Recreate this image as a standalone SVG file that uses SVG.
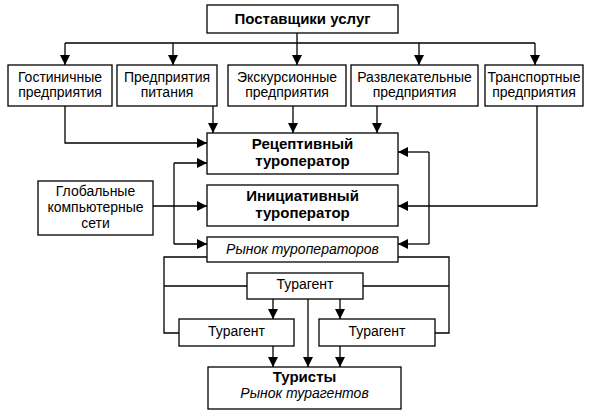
<svg xmlns="http://www.w3.org/2000/svg" width="596" height="416" viewBox="0 0 596 416">
<defs>
<style>
.box{fill:#fff;stroke:#000;stroke-width:1.3}
.ln{fill:none;stroke:#000;stroke-width:1.3}
text{font-family:"Liberation Sans",Arial,sans-serif;font-size:14px;fill:#000;text-anchor:middle}
.b{font-weight:bold;font-size:15px}
.i{font-style:italic}
</style>
<marker id="ah" markerWidth="10" markerHeight="10" refX="10" refY="5" orient="auto" markerUnits="userSpaceOnUse">
<path d="M0,0 L10,5 L0,10 z" fill="#000"/>
</marker>
</defs>
<rect width="596" height="416" fill="#fff"/>
<g id="connectors">
<path class="ln" d="M297,33 V43 M65,43 H535"/>
<path class="ln" marker-end="url(#ah)" d="M65,43 V65"/>
<path class="ln" marker-end="url(#ah)" d="M173,43 V65"/>
<path class="ln" marker-end="url(#ah)" d="M297,43 V65"/>
<path class="ln" marker-end="url(#ah)" d="M419,43 V65"/>
<path class="ln" marker-end="url(#ah)" d="M535,43 V65"/>
<path class="ln" marker-end="url(#ah)" d="M65,106 V143 H207"/>
<path class="ln" marker-end="url(#ah)" d="M213,106 V133"/>
<path class="ln" marker-end="url(#ah)" d="M293,106 V133"/>
<path class="ln" marker-end="url(#ah)" d="M377,106 V133"/>
<path class="ln" marker-end="url(#ah)" d="M537,106 V206 H398"/>
<path class="ln" marker-end="url(#ah)" d="M153,206 H207"/>
<path class="ln" d="M174,163 V244"/>
<path class="ln" marker-end="url(#ah)" d="M174,163 H207"/>
<path class="ln" marker-end="url(#ah)" d="M174,244 H207"/>
<path class="ln" d="M429,152 V244"/>
<path class="ln" marker-end="url(#ah)" d="M429,152 H398"/>
<path class="ln" marker-end="url(#ah)" d="M429,244 H398"/>
<path class="ln" d="M207,257 H164 V333 H179 M164,286 H247"/>
<path class="ln" d="M398,257 H449 V333 H435 M449,286 H363"/>
<path class="ln" marker-end="url(#ah)" d="M273,299 V319"/>
<path class="ln" marker-end="url(#ah)" d="M340,299 V319"/>
<path class="ln" marker-end="url(#ah)" d="M308,299 V367"/>
<path class="ln" marker-end="url(#ah)" d="M273,346 V367"/>
<path class="ln" marker-end="url(#ah)" d="M340,346 V367"/>
</g>
<g id="suppliers"><rect class="box" x="207" y="5" width="191" height="28"/><text class="b" x="302.5" y="24">Поставщики услуг</text></g>
<g id="hotels"><rect class="box" x="8" y="65" width="104" height="41"/><text x="60" y="82">Гостиничные</text><text x="60" y="97">предприятия</text></g>
<g id="food"><rect class="box" x="117" y="65" width="100" height="41"/><text x="167" y="82">Предприятия</text><text x="167" y="97">питания</text></g>
<g id="excursion"><rect class="box" x="228" y="65" width="118" height="41"/><text x="287" y="82">Экскурсионные</text><text x="287" y="97">предприятия</text></g>
<g id="entertainment"><rect class="box" x="351" y="65" width="127" height="41"/><text x="414.5" y="82">Развлекательные</text><text x="414.5" y="97">предприятия</text></g>
<g id="transport"><rect class="box" x="485" y="65" width="98" height="41"/><text x="534" y="82">Транспортные</text><text x="534" y="97">предприятия</text></g>
<g id="receptive"><rect class="box" x="207" y="133" width="191" height="41"/><text class="b" x="302.5" y="149">Рецептивный</text><text class="b" x="302.5" y="166">туроператор</text></g>
<g id="initiative"><rect class="box" x="207" y="185" width="191" height="41"/><text class="b" x="302.5" y="201">Инициативный</text><text class="b" x="302.5" y="218">туроператор</text></g>
<g id="networks"><rect class="box" x="38" y="181" width="115" height="54"/><text x="95.5" y="196">Глобальные</text><text x="95.5" y="212">компьютерные</text><text x="95.5" y="228">сети</text></g>
<g id="market-operators"><rect class="box" x="207" y="237" width="191" height="25"/><text class="i" x="302.5" y="254">Рынок туроператоров</text></g>
<g id="agent-mid"><rect class="box" x="247" y="273" width="116" height="26"/><text x="305" y="289">Турагент</text></g>
<g id="agent-left"><rect class="box" x="179" y="319" width="115" height="27"/><text x="236.5" y="336">Турагент</text></g>
<g id="agent-right"><rect class="box" x="319" y="319" width="116" height="27"/><text x="377" y="336">Турагент</text></g>
<g id="tourists"><rect class="box" x="208" y="367" width="193" height="42"/><text class="b" x="304.5" y="382">Туристы</text><text class="i" x="304.5" y="398">Рынок турагентов</text></g>
</svg>
